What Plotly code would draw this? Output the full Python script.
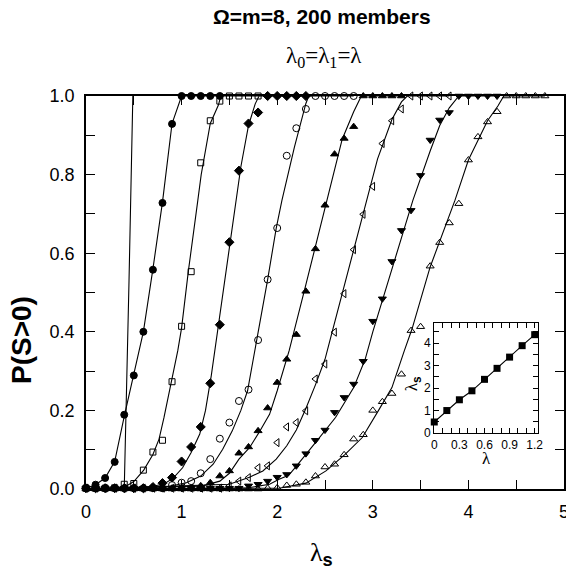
import plotly.graph_objects as go

# ---------------- data ----------------
LAMBDA_S = [0.0, 0.1, 0.2, 0.3, 0.4, 0.5, 0.6, 0.7, 0.8, 0.9,
            1.0, 1.1, 1.2, 1.3, 1.4, 1.5, 1.6, 1.7, 1.8, 1.9,
            2.0, 2.1, 2.2, 2.3, 2.4, 2.5, 2.6, 2.7, 2.8, 2.9,
            3.0, 3.1, 3.2, 3.3, 3.4, 3.5, 3.6, 3.7, 3.8, 3.9,
            4.0, 4.1, 4.2, 4.3, 4.4, 4.5, 4.6, 4.7, 4.8]

P_CIRCLE = [0.003, 0.011, 0.028, 0.069, 0.189, 0.289, 0.400, 0.558, 0.728, 0.929,
            1.0, 1.0, 1.0, 1.0, 1.0]
P_SQUARE = [0.002, 0.002, 0.002, 0.003, 0.012, 0.014, 0.048, 0.094, 0.124, 0.273,
            0.414, 0.553, 0.830, 0.937, 0.987, 1.0, 1.0, 1.0, 1.0]
P_DIAMOND = [0.002, 0.002, 0.002, 0.002, 0.002, 0.002, 0.002, 0.005, 0.015, 0.029,
             0.070, 0.107, 0.158, 0.269, 0.418, 0.628, 0.810, 0.930, 0.958,
             1.0, 1.0, 1.0, 1.0, 1.0]
P_OCIRCLE = [0.002, 0.002, 0.002, 0.002, 0.002, 0.002, 0.002, 0.002, 0.002, 0.010,
             0.016, 0.020, 0.040, 0.076, 0.128, 0.169, 0.224, 0.253, 0.379, 0.533,
             0.664, 0.848, 0.918, 0.967, 1.0, 1.0, 1.0, 1.0, 1.0]
P_TRIUP = [0.002, 0.002, 0.002, 0.002, 0.002, 0.002, 0.002, 0.002, 0.002, 0.002,
           0.002, 0.002, 0.008, 0.016, 0.033, 0.046, 0.091, 0.107, 0.148, 0.206,
           0.271, 0.330, 0.393, 0.503, 0.611, 0.722, 0.852, 0.892, 0.922,
           1.0, 1.0, 1.0, 1.0, 1.0]
P_TRILEFT = [0.002, 0.002, 0.002, 0.002, 0.002, 0.002, 0.002, 0.002, 0.002, 0.002,
             0.002, 0.002, 0.002, 0.002, 0.002, 0.008, 0.020, 0.029, 0.054, 0.059,
             0.118, 0.158, 0.169, 0.199, 0.280, 0.318, 0.399, 0.497, 0.609, 0.699,
             0.770, 0.879, 0.937, 0.967, 1.0, 1.0, 1.0, 1.0, 1.0]
P_TRIDOWN = [0.002, 0.002, 0.002, 0.002, 0.002, 0.002, 0.002, 0.002, 0.002, 0.002,
             0.002, 0.002, 0.002, 0.002, 0.002, 0.002, 0.002, 0.008, 0.012, 0.020,
             0.030, 0.037, 0.059, 0.090, 0.124, 0.150, 0.195, 0.233, 0.267, 0.325,
             0.427, 0.484, 0.579, 0.658, 0.709, 0.798, 0.888, 0.939, 0.958,
             1.0, 1.0, 1.0, 1.0, 1.0]
P_OTRIUP = [0.0, 0.0, 0.0, 0.0, 0.0, 0.0, 0.0, 0.0, 0.0, 0.0,
            0.0, 0.0, 0.0, 0.0, 0.0, 0.0, 0.0, 0.0, 0.0, 0.002,
            0.003, 0.009, 0.012, 0.017, 0.033, 0.056, 0.063, 0.087, 0.127, 0.138,
            0.200, 0.222, 0.243, 0.292, 0.403, 0.413, 0.567, 0.627, 0.677, 0.726,
            0.837, 0.896, 0.934, 0.960, 1.0, 1.0, 1.0, 1.0, 1.0]

# fitted curves (x, y)
FIT0_X = [0.0, 0.40, 0.45, 0.49]
FIT0_Y = [0.0, 0.0, 0.53, 1.0]
FIT1_X = [0.0, 0.1, 0.2, 0.3, 0.4, 0.5, 0.6, 0.7, 0.8, 0.9, 1.0, 1.4]
FIT1_Y = [0.002, 0.011, 0.028, 0.07, 0.185, 0.29, 0.40, 0.56, 0.73, 0.93, 1.0, 1.0]
FIT2_X = [0.0, 0.406, 0.5, 0.604, 0.70, 0.764, 0.816, 0.868, 0.91, 0.96, 1.0, 1.07,
          1.17, 1.205, 1.30, 1.385, 1.41, 1.8]
FIT2_Y = [0.0, 0.005, 0.019, 0.048, 0.088, 0.127, 0.182, 0.241, 0.297, 0.352, 0.41, 0.553,
          0.735, 0.80, 0.93, 0.977, 1.0, 1.0]
FIT3_X = [0.0, 0.6, 0.81, 0.91, 1.01, 1.10, 1.19, 1.25, 1.31, 1.40, 1.50, 1.57, 1.62,
          1.70, 1.77, 1.81, 2.3]
FIT3_Y = [0.0, 0.003, 0.012, 0.027, 0.054, 0.093, 0.14, 0.2, 0.288, 0.44, 0.615, 0.735, 0.82,
          0.925, 0.98, 1.0, 1.0]
FIT4_X = [0.0, 0.8, 1.05, 1.2, 1.33, 1.43, 1.53, 1.62, 1.69, 1.75, 1.80, 1.90, 1.99, 2.05,
          2.18, 2.30, 2.33, 2.8]
FIT4_Y = [0.0, 0.003, 0.016, 0.033, 0.063, 0.101, 0.148, 0.2, 0.25, 0.33, 0.40, 0.533, 0.664,
          0.735, 0.87, 0.981, 1.0, 1.0]
FIT5_X = [0.0, 1.22, 1.40, 1.50, 1.60, 1.71, 1.81, 1.92, 2.0, 2.06, 2.125, 2.30, 2.52, 2.68,
          2.80, 2.88, 3.3]
FIT5_Y = [0.0, 0.008, 0.02, 0.04, 0.076, 0.105, 0.144, 0.19, 0.25, 0.30, 0.352, 0.52, 0.735,
          0.89, 0.96, 1.0, 1.0]
FIT6_X = [0.0, 1.5, 1.71, 1.85, 1.99, 2.10, 2.2, 2.3, 2.40, 2.50, 2.575, 2.94, 3.05, 3.2,
          3.30, 3.36, 3.8]
FIT6_Y = [0.0, 0.012, 0.03, 0.046, 0.076, 0.11, 0.15, 0.205, 0.265, 0.33, 0.40, 0.735, 0.84,
          0.94, 0.985, 1.0, 1.0]
FIT7_X = [0.0, 1.7, 1.92, 2.02, 2.12, 2.19, 2.40, 2.61, 2.80, 2.92, 3.0, 3.2, 3.42, 3.6,
          3.7, 3.8, 3.9, 4.3]
FIT7_Y = [0.0, 0.003, 0.012, 0.025, 0.035, 0.055, 0.118, 0.182, 0.258, 0.33, 0.40, 0.56,
          0.735, 0.86, 0.925, 0.97, 1.0, 1.0]
FIT8_X = [0.0, 2.02, 2.3, 2.51, 2.71, 2.89, 3.06, 3.20, 3.33, 3.41, 3.6, 3.86, 4.0, 4.2,
          4.31, 4.37, 4.8]
FIT8_Y = [0.0, 0.002, 0.015, 0.046, 0.088, 0.131, 0.2, 0.258, 0.352, 0.407, 0.565, 0.735,
          0.837, 0.937, 0.975, 1.0, 1.0]

# inset
INSET_LAMBDA = [0.0, 0.15, 0.3, 0.45, 0.6, 0.75, 0.9, 1.05, 1.2]
INSET_LAMBDA_S = [0.49, 1.0, 1.48, 1.88, 2.39, 2.88, 3.38, 3.89, 4.38]

# ---------------- figure ----------------
fig = go.Figure()
SANS = "Liberation Sans, Arial, sans-serif"
SERIF = "Liberation Serif, Times New Roman, serif"

fits = [(FIT0_X, FIT0_Y), (FIT1_X, FIT1_Y), (FIT2_X, FIT2_Y), (FIT3_X, FIT3_Y),
        (FIT4_X, FIT4_Y), (FIT5_X, FIT5_Y), (FIT6_X, FIT6_Y), (FIT7_X, FIT7_Y),
        (FIT8_X, FIT8_Y)]
for fx, fy in fits:
    fig.add_trace(go.Scatter(x=fx, y=fy, mode="lines",
                             line=dict(color="black", width=1.1),
                             cliponaxis=False, showlegend=False, hoverinfo="skip"))

series = [
    (P_CIRCLE, "circle", 7),
    (P_SQUARE, "square-open", 6),
    (P_DIAMOND, "diamond", 7),
    (P_OCIRCLE, "circle-open", 7),
    (P_TRIUP, "triangle-up", 7),
    (P_TRILEFT, "triangle-left-open", 7),
    (P_TRIDOWN, "triangle-down", 7),
    (P_OTRIUP, "triangle-up-open", 7),
]
for ys, sym, sz in series:
    fig.add_trace(go.Scatter(x=LAMBDA_S[:len(ys)], y=ys, mode="markers",
                             marker=dict(symbol=sym, size=sz, color="black",
                                         line=dict(color="black", width=1)),
                             cliponaxis=False, showlegend=False))

fig.add_trace(go.Scatter(x=INSET_LAMBDA, y=INSET_LAMBDA_S, mode="lines+markers",
                         xaxis="x2", yaxis="y2",
                         line=dict(color="black", width=1.1),
                         marker=dict(symbol="square", size=7, color="black"),
                         cliponaxis=False, showlegend=False))

axis_common = dict(showline=True, linecolor="black", linewidth=1.5, mirror="ticks",
                   ticks="inside", tickcolor="black", tickwidth=1.3, ticklen=9,
                   showgrid=False, zeroline=False, automargin=False,
                   ticklabeloverflow="allow",
                   tickfont=dict(family=SANS, size=18, color="black"))

inset_common = dict(showline=True, linecolor="black", linewidth=1.3, mirror="ticks",
                    ticks="inside", tickcolor="black", tickwidth=1.1, ticklen=5,
                    showgrid=False, zeroline=False, automargin=False,
                    ticklabeloverflow="allow",
                    tickfont=dict(family=SANS, size=12, color="black"))

fig.update_layout(
    width=566, height=577,
    margin=dict(l=86, r=2, t=96, b=88, autoexpand=False),
    paper_bgcolor="white", plot_bgcolor="white",
    xaxis=dict(range=[0, 5], tick0=0, dtick=1, ticklabelstandoff=6,
               minor=dict(dtick=0.5, ticks="inside", ticklen=9, tickcolor="black", tickwidth=1.3),
               domain=[0, 1], **axis_common),
    yaxis=dict(range=[0, 1], tick0=0, dtick=0.2, tickformat=".1f", ticklabelstandoff=6,
               minor=dict(dtick=0.1, ticks="inside", ticklen=9, tickcolor="black", tickwidth=1.3),
               domain=[0, 1], **axis_common),
    xaxis2=dict(range=[0, 1.24], tick0=0, dtick=0.3, anchor="y2",
                domain=[0.7286, 0.9457],
                minor=dict(dtick=0.1, ticks="inside", ticklen=5, tickcolor="black", tickwidth=1.1),
                **inset_common),
    yaxis2=dict(range=[0, 4.9], tick0=0, dtick=1, anchor="x2",
                domain=[0.1425, 0.4224],
                minor=dict(dtick=0.5, ticks="inside", ticklen=5, tickcolor="black", tickwidth=1.1),
                **inset_common),
)

ann = [
    dict(text="<b>Ω=m=8, 200 members</b>", x=0.4927, y=1.2018,
         font=dict(family=SANS, size=21, color="black")),
    dict(text="λ<sub>0</sub>=λ<sub>1</sub>=λ", x=0.4979, y=1.0992,
         font=dict(family=SERIF, size=23, color="black")),
    dict(text="<b>P(S&gt;0)</b>", x=-0.1361, y=0.379, textangle=-90,
         font=dict(family=SANS, size=28, color="black")),
    dict(text="λ<sub><b><span style='font-family:Liberation Sans'>s</span></b></sub>",
         x=0.4927, y=-0.1654,
         font=dict(family=SERIF, size=26, color="black")),
    dict(text="λ<sub><b><span style='font-family:Liberation Sans'>s</span></b></sub>",
         x=0.6848, y=0.2672, textangle=-90,
         font=dict(family=SERIF, size=17, color="black")),
    dict(text="λ", x=0.837, y=0.077,
         font=dict(family=SERIF, size=17, color="black")),
]
for a in ann:
    fig.add_annotation(xref="paper", yref="paper", showarrow=False,
                       xanchor="center", yanchor="middle", **a)

# remove the default page margin so the figure fills the window from its corner
fig.write_html("out.html",
               config={"displayModeBar": False},
               post_script="document.body.style.margin='0px';"
                           "document.body.style.overflow='hidden';")
